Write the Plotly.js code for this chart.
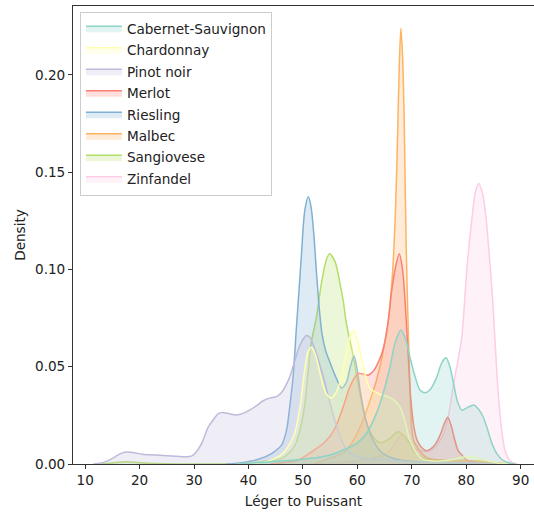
<!DOCTYPE html>
<html>
<head>
<meta charset="utf-8">
<script src="https://cdn.plot.ly/plotly-3.0.1.min.js"></script>
<style>html,body{margin:0;padding:0;background:#fff;}#chart{width:534px;height:515px;}</style>
</head>
<body>
<div id="chart"></div>
<script>
const seriesNames = ["Cabernet-Sauvignon","Chardonnay","Pinot noir","Merlot","Riesling","Malbec","Sangiovese","Zinfandel"];

const cabX = [38,42,46,50,53,55,57.4,59.9,61.7,63.5,64.7,66.0,66.9,68.0,69.0,69.65,70.6,71.5,72.4,73.3,74.5,75.5,76.3,77.0,77.7,78.4,79.2,80.2,81.4,82.3,83.1,84.0,84.8,85.6,86.6,87.8,89];
const cabY = [0,0.0008,0.0015,0.0025,0.0035,0.0046,0.0072,0.0106,0.0158,0.026,0.036,0.050,0.062,0.0689,0.063,0.055,0.045,0.038,0.0366,0.038,0.044,0.052,0.0546,0.050,0.041,0.032,0.0277,0.029,0.0303,0.028,0.0243,0.017,0.010,0.0055,0.0022,0.0006,0];

const chaX = [38,43,45,46.5,47.5,48.5,49.5,50.3,51.0,51.6,52.3,53.2,54.3,55.3,56.3,57.3,58.3,59.2,60.0,61.1,62.3,64.1,66.3,67.8,68.7,69.65,70.9,72,74,77,79,80.5,82,84,86,88];
const chaY = [0,0.001,0.003,0.006,0.010,0.016,0.030,0.048,0.058,0.060,0.056,0.046,0.036,0.034,0.038,0.048,0.062,0.0689,0.064,0.050,0.039,0.036,0.0337,0.0294,0.0226,0.0123,0.0055,0.0025,0.0015,0.002,0.0033,0.004,0.003,0.0015,0.0004,0];

const pinX = [11.5,12.7,14,15.5,16.7,17.8,19.0,20.5,22.8,25.9,28.7,29.6,30.2,31.4,32.6,33.5,34.4,35.2,36.5,37.8,39.0,40.2,41.5,42.7,44.0,45.1,46.0,46.8,47.6,48.4,49.3,50.0,50.66,51.3,52.2,53.1,54.0,55.0,56.0,57.0,58.0,59.0,60.5,63,66,70,75,80,84,86];
const pinY = [0,0.0004,0.0015,0.0037,0.0056,0.0062,0.0058,0.005,0.0046,0.0041,0.0037,0.0042,0.0055,0.0106,0.019,0.0226,0.0258,0.0265,0.0258,0.0252,0.026,0.0277,0.030,0.0325,0.034,0.0346,0.0365,0.040,0.045,0.052,0.060,0.064,0.066,0.065,0.059,0.051,0.042,0.031,0.021,0.013,0.0075,0.005,0.0035,0.0025,0.002,0.0012,0.0008,0.0006,0.0003,0];

const merX = [44,47.6,49.2,50.7,52,53.5,54.9,56.0,57.4,58.4,59.2,60.2,61.0,62.0,63.0,63.8,64.7,65.6,66.3,67.0,67.7,68.3,68.8,69.3,69.8,70.4,71.0,71.8,72.7,73.6,74.5,75.3,76.0,76.6,77.2,77.9,78.5,79.2,80.1,82,85];
const merY = [0,0.001,0.002,0.0046,0.007,0.010,0.014,0.019,0.0294,0.038,0.043,0.0466,0.0462,0.0457,0.048,0.052,0.0586,0.072,0.089,0.101,0.108,0.100,0.082,0.058,0.034,0.019,0.012,0.0085,0.0068,0.008,0.011,0.0155,0.021,0.024,0.020,0.0123,0.007,0.0046,0.002,0.0008,0];

const riesX = [36,38.8,41.8,44.3,46.1,47.0,47.6,48.2,48.8,49.3,49.7,50.35,51.0,51.5,52.0,52.5,53.0,53.5,54.2,55.0,56.0,57.1,58.0,58.7,59.4,60.0,60.5,61.0,61.5,62.3,62.9,63.8,64.7,66,68,72,78,84];
const riesY = [0,0.0007,0.0024,0.0055,0.0098,0.0175,0.030,0.045,0.070,0.090,0.1065,0.1305,0.1374,0.132,0.118,0.098,0.080,0.067,0.058,0.052,0.045,0.039,0.042,0.050,0.0555,0.048,0.038,0.030,0.023,0.016,0.0123,0.008,0.0055,0.0035,0.002,0.001,0.0005,0];

const malX = [52,54,56,57.5,59,60.5,61.5,62.5,63.5,64.3,65,65.5,66,66.5,67,67.4,67.7,68.0,68.3,68.6,68.8,69.0,69.3,69.6,70.0,70.5,71.2,72,73,75,78,81,84,86,88];
const malY = [0,0.002,0.004,0.006,0.011,0.019,0.026,0.034,0.043,0.052,0.062,0.070,0.082,0.100,0.130,0.170,0.205,0.224,0.210,0.177,0.142,0.108,0.074,0.045,0.018,0.011,0.008,0.005,0.003,0.002,0.0015,0.0015,0.001,0.0005,0];

const sanX = [13,15,17.5,20,23,27,38,42.4,46.1,47.6,48.6,49.5,50.35,50.9,51.5,52.5,53.4,54.3,54.9,55.9,56.8,57.4,58.0,59.2,60.2,61.1,62.0,62.9,64.1,65.0,66.0,67.5,68.7,69.65,70.3,71.2,72.5,75,79,82,85,87];
const sanY = [0,0.0005,0.0012,0.0006,0.0002,0,0.0003,0.0012,0.0029,0.006,0.010,0.018,0.031,0.046,0.062,0.0757,0.093,0.105,0.108,0.104,0.093,0.084,0.072,0.056,0.040,0.0277,0.019,0.014,0.011,0.0115,0.0132,0.0166,0.014,0.0106,0.0065,0.0046,0.0025,0.0018,0.0018,0.0015,0.0006,0];

const zinX = [50,55,59,62,64.1,66.0,67.2,68.2,69.0,69.65,70.5,71.5,72.5,73.3,74.6,75.5,76.1,77.0,77.6,78.4,79.2,80.1,81.0,81.7,82.3,83.0,83.7,84.2,84.7,85.2,85.6,86.0,86.5,87.1,87.7,88.3,89.5];
const zinY = [0,0.0005,0.0012,0.0025,0.004,0.0068,0.012,0.0149,0.013,0.011,0.008,0.0068,0.0066,0.0068,0.0098,0.0135,0.0175,0.029,0.040,0.052,0.0654,0.0997,0.125,0.140,0.1442,0.139,0.125,0.108,0.091,0.068,0.048,0.032,0.0175,0.0072,0.003,0.001,0];

const xTicks = [10,20,30,40,50,60,70,80,90];
const yTicks = [0,0.05,0.10,0.15,0.20];

const seriesX = [cabX, chaX, pinX, merX, riesX, malX, sanX, zinX];
const seriesY = [cabY, chaY, pinY, merY, riesY, malY, sanY, zinY];
const palette = [[141,211,199],[255,255,179],[190,186,218],[251,128,114],[128,177,211],[253,180,98],[179,222,105],[252,205,229]];

const traces = [];
// seaborn draws the last hue level first
for (let i = seriesNames.length - 1; i >= 0; i--) {
  const c = palette[i];
  traces.push({
    type: 'scatter', mode: 'lines',
    x: seriesX[i], y: seriesY[i],
    name: seriesNames[i], legendgroup: seriesNames[i], legendrank: i + 1,
    fill: 'tozeroy',
    fillcolor: `rgba(${c[0]},${c[1]},${c[2]},0.25)`,
    line: {color: `rgb(${c[0]},${c[1]},${c[2]})`, width: 1.5, shape: 'spline', smoothing: 0.8},
    hoverinfo: 'skip'
  });
}

const font = {family: 'DejaVu Sans, sans-serif', size: 13.6, color: '#222'};
const layout = {
  width: 534, height: 515,
  margin: {l: 73, r: 0, t: 6, b: 51},
  paper_bgcolor: '#fff', plot_bgcolor: '#fff',
  font: font,
  showlegend: true,
  legend: {
    x: 0.015, y: 0.987, xanchor: 'left', yanchor: 'top',
    bgcolor: 'rgba(255,255,255,0.8)', bordercolor: '#cccccc', borderwidth: 1,
    font: font, traceorder: 'grouped', tracegroupgap: 0.8, itemwidth: 36
  },
  xaxis: {
    range: [7.76, 92.45], tickvals: xTicks, ticktext: xTicks.map(String),
    showgrid: false, zeroline: false, showline: true, mirror: true,
    linecolor: '#333', linewidth: 1, ticks: 'outside', ticklen: 4, tickwidth: 1, tickcolor: '#333',
    tickfont: font,
    title: {text: 'Léger to Puissant', font: font, standoff: 9}
  },
  yaxis: {
    range: [0, 0.2354], tickvals: yTicks, ticktext: yTicks.map(v => v.toFixed(2)),
    showgrid: false, zeroline: false, showline: true, mirror: false,
    linecolor: '#333', linewidth: 1, ticks: 'outside', ticklen: 4, tickwidth: 1, tickcolor: '#333',
    tickfont: font,
    title: {text: 'Density', font: font, standoff: 6}
  }
};

Plotly.newPlot('chart', traces, layout, {staticPlot: true, displayModeBar: false});
</script>
</body>
</html>
